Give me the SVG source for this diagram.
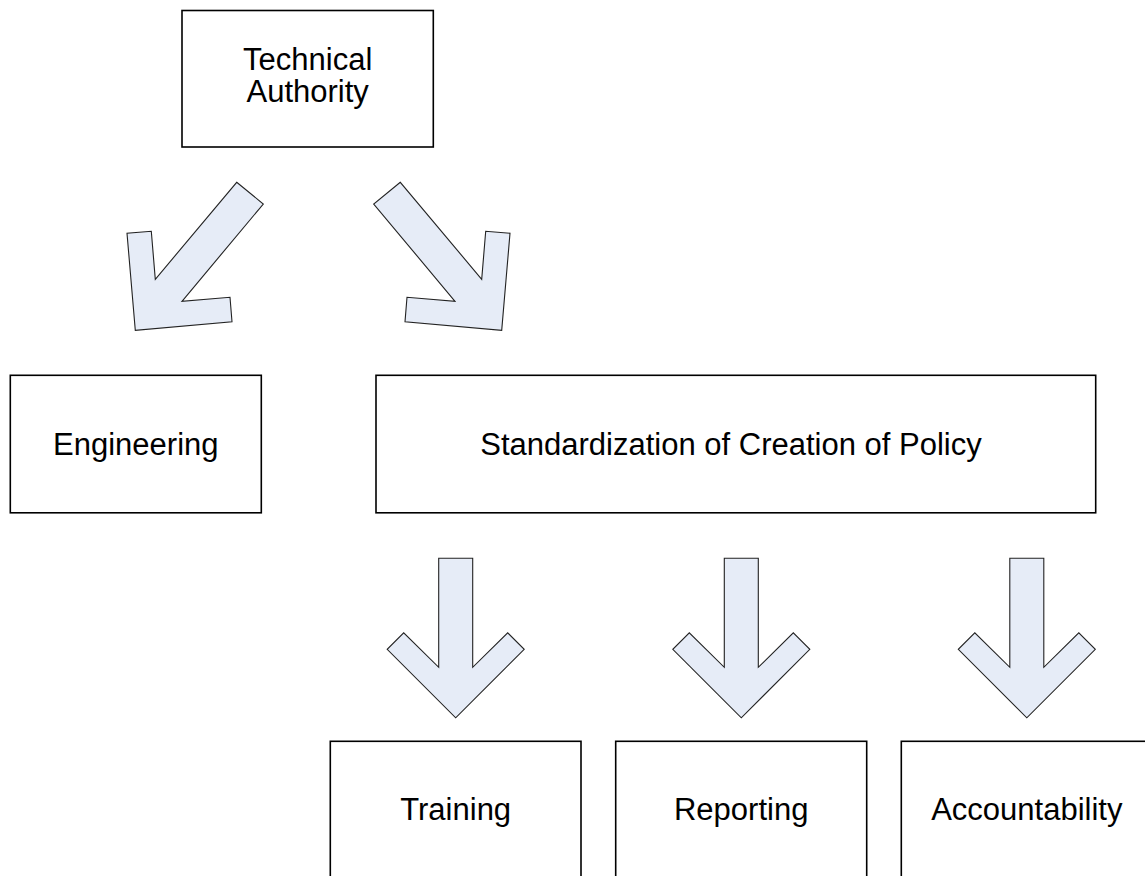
<svg xmlns="http://www.w3.org/2000/svg" width="1145" height="876" viewBox="0 0 1145 876">
<style>
.box{fill:#ffffff;stroke:#000000;stroke-width:1.6}
.lbl{font-family:"Liberation Sans",Arial,sans-serif;font-size:31px;fill:#000000;text-anchor:middle}
.arr{fill:#E6ECF7;stroke:#222222;stroke-width:1.1;stroke-linejoin:miter}
</style>
<defs>
<path id="down" d="M -17 0 L 17 0 L 17 109 L 52 74.5 L 68.5 91 L 0 159.5 L -68.5 91 L -52 74.5 L -17 109 Z"/>
</defs>
<rect width="1145" height="876" fill="#ffffff"/>
<g id="connectors">
<polygon class="arr" points="236.7,182.3 263.3,204 182,301.3 230,297.3 232,321.7 135.3,330.3 127,233.3 151.3,231.3 155.3,279.3"/>
<polygon class="arr" points="400.3,182.3 373.7,204 455,301.3 407,297.3 405,321.7 501.7,330.3 510,233.3 485.7,231.3 481.7,279.3"/>
<use href="#down" class="arr" x="455.7" y="558.3"/>
<use href="#down" class="arr" x="741.3" y="558.3"/>
<use href="#down" class="arr" x="1026.8" y="558.3"/>
</g>
<g id="technical-authority">
<rect class="box" x="182" y="10.5" width="251.3" height="136.5"/>
<text class="lbl" x="307.7" y="70">Technical</text>
<text class="lbl" x="307.7" y="102">Authority</text>
</g>
<g id="engineering">
<rect class="box" x="10.3" y="375.3" width="251" height="137.5"/>
<text class="lbl" x="135.8" y="455">Engineering</text>
</g>
<g id="standardization">
<rect class="box" x="376" y="375.3" width="719.7" height="137.5"/>
<text class="lbl" x="731" y="455">Standardization of Creation of Policy</text>
</g>
<g id="training">
<rect class="box" x="330.3" y="741.3" width="250.7" height="150"/>
<text class="lbl" x="455.7" y="819.5">Training</text>
</g>
<g id="reporting">
<rect class="box" x="615.7" y="741.3" width="251" height="150"/>
<text class="lbl" x="741.2" y="819.5">Reporting</text>
</g>
<g id="accountability">
<rect class="box" x="901.3" y="741.3" width="251" height="150"/>
<text class="lbl" x="1026.8" y="819.5">Accountability</text>
</g>
</svg>
